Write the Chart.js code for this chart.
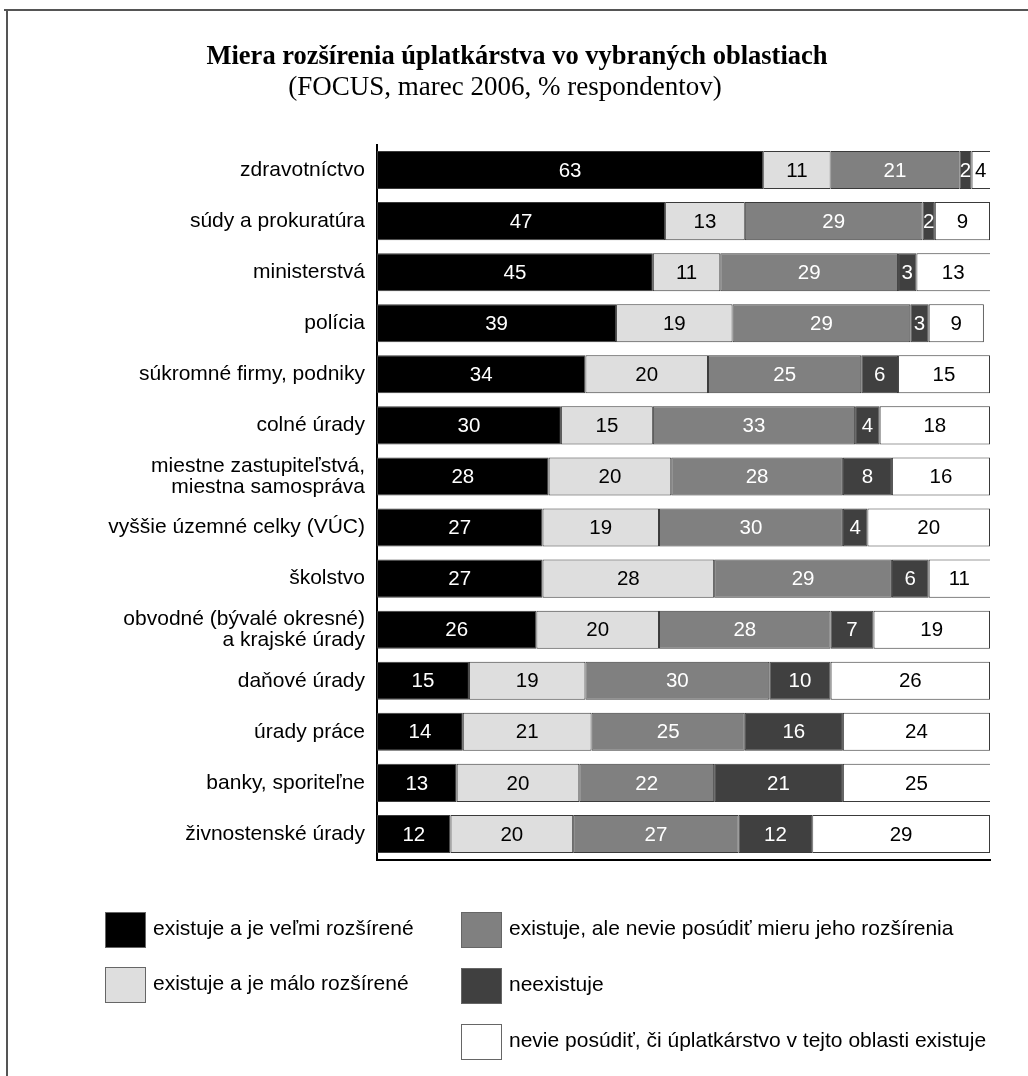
<!DOCTYPE html>
<html lang="sk">
<head>
  <meta charset="UTF-8">
  <title>Miera rozšírenia úplatkárstva vo vybraných oblastiach</title>
  <script src="https://cdn.jsdelivr.net/npm/chart.js"></script>
  <style>
    * {
      margin: 0;
      padding: 0;
      box-sizing: border-box;
    }

    body {
      background: #fff;
      width: 1028px;
      height: 1076px;
      overflow: hidden;
    }
  </style>
</head>
<body>

  <canvas id="chart" width="1028" height="1076"></canvas>

  <script>
    // Data
    const categories = [
      'zdravotníctvo',
      'súdy a prokuratúra',
      'ministerstvá',
      'polícia',
      'súkromné firmy, podniky',
      'colné úrady',
      ['miestne zastupiteľstvá,', 'miestna samospráva'],
      'vyššie územné celky (VÚC)',
      'školstvo',
      ['obvodné (bývalé okresné)', 'a krajské úrady'],
      'daňové úrady',
      'úrady práce',
      'banky, sporiteľne',
      'živnostenské úrady'
    ];

    const seriesNames = [
      'existuje a je veľmi rozšírené',
      'existuje a je málo rozšírené',
      'existuje, ale nevie posúdiť mieru jeho rozšírenia',
      'neexistuje',
      'nevie posúdiť, či úplatkárstvo v tejto oblasti existuje'
    ];

    const veryCommon    = [63, 47, 45, 39, 34, 30, 28, 27, 27, 26, 15, 14, 13, 12];
    const littleCommon  = [11, 13, 11, 19, 20, 15, 20, 19, 28, 20, 19, 21, 20, 20];
    const unknownExtent = [21, 29, 29, 29, 25, 33, 28, 30, 29, 28, 30, 25, 22, 27];
    const notExisting   = [2, 2, 3, 3, 6, 4, 8, 4, 6, 7, 10, 16, 21, 12];
    const cannotJudge   = [4, 9, 13, 9, 15, 18, 16, 20, 11, 19, 26, 24, 25, 29];

    const fillColors  = ['#000000', '#dedede', '#808080', '#404040', '#ffffff'];
    const labelColors = ['#ffffff', '#000000', '#ffffff', '#ffffff', '#000000'];

    const allSeries = [veryCommon, littleCommon, unknownExtent, notExisting, cannotJudge];

    // Frame + title lines
    const framePlugin = {
      id: 'frame',
      beforeDraw(chart) {
        const ctx = chart.ctx;
        ctx.save();
        ctx.strokeStyle = '#555';
        ctx.lineWidth = 2;
        ctx.beginPath();
        ctx.moveTo(4, 10);
        ctx.lineTo(1028, 10);
        ctx.moveTo(7, 10);
        ctx.lineTo(7, 1076);
        ctx.stroke();

        ctx.fillStyle = '#000';
        ctx.textAlign = 'center';
        ctx.textBaseline = 'middle';
        ctx.font = 'bold 26.5px "Liberation Serif"';
        ctx.fillText('Miera rozšírenia úplatkárstva vo vybraných oblastiach', 517, 57);
        ctx.font = '27px "Liberation Serif"';
        ctx.fillText('(FOCUS, marec 2006, % respondentov)', 505, 88);
        ctx.restore();
      }
    };

    // Numbers in the middle of every segment
    const valueLabels = {
      id: 'valueLabels',
      afterDatasetsDraw(chart) {
        const ctx = chart.ctx;
        const area = chart.chartArea;
        ctx.save();
        ctx.font = '20.5px "Liberation Sans"';
        ctx.textAlign = 'center';
        ctx.textBaseline = 'middle';
        chart.data.datasets.forEach((ds, di) => {
          const meta = chart.getDatasetMeta(di);
          ctx.fillStyle = labelColors[di];
          meta.data.forEach((bar, i) => {
            const a = Math.max(Math.min(bar.base, bar.x), area.left);
            const b = Math.min(Math.max(bar.base, bar.x), area.right);
            ctx.fillText(String(ds.data[i]), (a + b) / 2, bar.y + 1);
          });
        });
        ctx.restore();
      }
    };

    // Two column legend under the plot
    const legendSpots = [[105, 912], [105, 967], [461, 912], [461, 968], [461, 1024]];
    const boxLegend = {
      id: 'boxLegend',
      afterDraw(chart) {
        const ctx = chart.ctx;
        ctx.save();
        ctx.font = '21px "Liberation Sans"';
        ctx.textAlign = 'left';
        ctx.textBaseline = 'middle';
        chart.data.datasets.forEach((ds, i) => {
          const [x, y] = legendSpots[i];
          ctx.fillStyle = ds.backgroundColor;
          ctx.fillRect(x, y, 40, 35);
          ctx.strokeStyle = '#666';
          ctx.lineWidth = 1;
          ctx.strokeRect(x + 0.5, y + 0.5, 40, 35);
          ctx.fillStyle = '#000';
          ctx.fillText(ds.label, x + 48, y + 17);
        });
        ctx.restore();
      }
    };

    new Chart(document.getElementById('chart'), {
      type: 'bar',
      data: {
        labels: categories,
        datasets: allSeries.map((values, i) => ({
          label: seriesNames[i],
          data: values,
          backgroundColor: fillColors[i],
          borderColor: '#3a3a3a',
          borderWidth: 1,
          borderSkipped: false,
          barPercentage: 0.745,
          categoryPercentage: 1
        }))
      },
      options: {
        indexAxis: 'y',
        responsive: false,
        animation: false,
        layout: { padding: { top: 144.5, bottom: 216.5, left: 0, right: 38 } },
        plugins: {
          legend: { display: false },
          tooltip: { enabled: false }
        },
        scales: {
          x: {
            stacked: true,
            min: 0,
            max: 100,
            ticks: { display: false },
            grid: { display: false, drawTicks: false },
            border: { display: true, color: '#000', width: 2 },
            afterFit: s => { s.height = 0; }
          },
          y: {
            stacked: true,
            ticks: {
              color: '#000',
              autoSkip: false,
              padding: 12,
              font: { family: 'Liberation Sans', size: 21, lineHeight: 1.0 }
            },
            grid: { display: false, drawTicks: false },
            border: { display: true, color: '#000', width: 2 },
            afterFit: s => { s.width = 377; }
          }
        }
      },
      plugins: [framePlugin, valueLabels, boxLegend]
    });
  </script>

</body>
</html>
